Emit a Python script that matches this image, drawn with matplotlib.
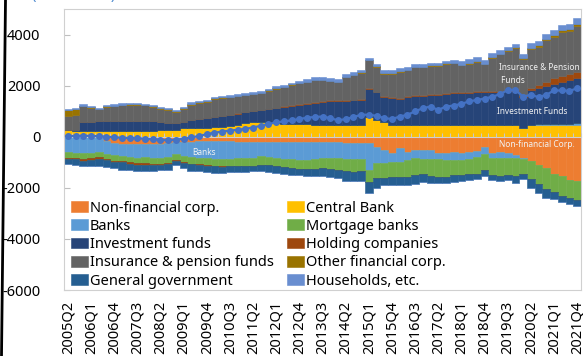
import numpy as np
import pandas as pd
import matplotlib
matplotlib.use("Agg")
import matplotlib.pyplot as plt
from matplotlib.lines import Line2D

plt.rcParams['font.family'] = ['Noto Sans', 'DejaVu Sans']
plt.rcParams['axes.unicode_minus'] = False

# quarterly observations, 2005Q2 - 2021Q4 (DKK billion)
quarters = [str(p) for p in pd.period_range('2005Q2', '2021Q4', freq='Q')]

non_financial = [110, 100, 90, 70, 20, -150, -250, -280, -300, -300,
                 -300, -300, -280, -250, -200, -200, -190, -180, -170, -170,
                 -170, -180, -190, -200, -200, -190, -190, -200, -200, -210,
                 -210, -200, -200, -210, -210, -220, -230, -230, -240, -250,
                 -400, -500, -650, -460, -590, -500, -500, -520, -620, -650,
                 -590, -650, -590, -560, -420, -650, -600, -640, -700, -830,
                 -960, -1090, -1220, -1450, -1550, -1680, -1740]
central_bank = [140, 140, 150, 160, 200, 240, 240, 240, 230, 230,
                240, 240, 250, 250, 280, 340, 340, 340, 350, 370,
                400, 420, 450, 520, 560, 560, 540, 520, 510, 500,
                490, 480, 470, 470, 470, 470, 470, 470, 470, 760,
                660, 560, 470, 440, 440, 440, 440, 440, 440, 440,
                455, 455, 455, 455, 455, 455, 455, 455, 455, 360,
                450, 440, 440, 440, 450, 450, 460]
banks = [-600, -620, -640, -620, -580, -520, -480, -470, -480, -520,
         -500, -530, -540, -540, -470, -540, -600, -640, -680, -700,
         -700, -680, -660, -640, -620, -560, -600, -640, -660, -680,
         -700, -700, -680, -620, -620, -630, -640, -640, -620, -1050,
         -620, -540, -350, -520, -330, -350, -380, -340, -260, -260,
         -320, -250, -300, -250, -260, -200, -250, -180, -130, -60,
         20, 40, 40, 50, 50, 50, 60]
mortgage_banks = [-230, -230, -250, -220, -230, -220, -210, -210, -220, -220,
                  -230, -230, -230, -240, -260, -260, -260, -260, -260, -270,
                  -280, -290, -300, -310, -330, -350, -330, -320, -320, -330,
                  -340, -350, -370, -400, -430, -460, -480, -500, -500, -480,
                  -580, -560, -580, -610, -650, -650, -570, -690, -680, -680,
                  -580, -610, -580, -630, -620, -650, -690, -680, -700, -560,
                  -700, -760, -820, -700, -760, -700, -720]
investment_funds = [30, 40, 340, 360, 380, 380, 390, 390, 400, 400,
                    390, 370, 340, 300, 240, 220, 300, 340, 370, 390,
                    420, 440, 450, 440, 440, 480, 540, 600, 670, 720,
                    770, 820, 860, 900, 920, 930, 940, 950, 960, 1110,
                    1080, 990, 1040, 1050, 1110, 1150, 1170, 1190, 1210, 1230,
                    1260, 1260, 1270, 1280, 1290, 1300, 1310, 1320, 1330, 1210,
                    1360, 1420, 1510, 1580, 1660, 1720, 1770]
holding_companies = [-40, -40, -60, -90, -60, -40, -40, -40, -50, -60,
                     -60, -50, -40, -40, -30, -30, -30, -30, -20, -20,
                     -20, -10, 10, 10, 20, 20, 20, 20, 20, 20,
                     20, 30, 30, 30, 30, 30, 30, 30, 30, 30,
                     30, 30, 30, 30, 30, 30, 30, 30, 30, 30,
                     40, 40, 40, 40, 40, 40, 40, 40, 40, 40,
                     70, 130, 170, 210, 220, 240, 260]
insurance_pension = [530, 590, 620, 550, 470, 560, 570, 610, 630, 630,
                     600, 560, 510, 510, 450, 540, 620, 650, 640, 720,
                     700, 690, 680, 660, 650, 650, 690, 740, 740, 790,
                     810, 810, 850, 820, 760, 710, 890, 960, 1040, 1090,
                     970, 890, 930, 1020, 1020, 1090, 1070, 1100, 1080, 1140,
                     1120, 1040, 1100, 1160, 1050, 1300, 1420, 1540, 1640, 1450,
                     1540, 1500, 1620, 1630, 1720, 1690, 1790]
other_financial = [230, 220, 20, 20, 20, 20, 20, 20, 20, 20,
                   20, 20, 20, 20, 20, 20, 20, 20, 20, 20,
                   20, 20, 20, 20, 20, 20, 20, 20, 20, 20,
                   20, 20, 20, 20, 20, 20, 20, 20, 20, 20,
                   20, 30, 30, 30, 30, 30, 30, 30, 30, 30,
                   30, 30, 30, 30, 30, 30, 30, 30, 30, 40,
                   50, 60, 60, 70, 70, 80, 80]
general_government = [-200, -200, -200, -220, -260, -270, -260, -290, -270, -240,
                      -260, -230, -230, -230, -160, -210, -260, -250, -240, -260,
                      -250, -230, -230, -230, -210, -240, -280, -260, -270, -270,
                      -260, -270, -300, -310, -300, -300, -380, -380, -390, -420,
                      -400, -280, -320, -290, -310, -360, -310, -250, -270, -210,
                      -300, -240, -230, -220, -230, -190, -190, -190, -270, -220,
                      -350, -360, -340, -270, -250, -260, -270]
households = [50, 50, 50, 50, 50, 50, 50, 50, 50, 50,
              50, 60, 60, 60, 60, 60, 60, 60, 60, 60,
              60, 70, 70, 70, 70, 70, 70, 70, 70, 70,
              70, 90, 90, 90, 90, 90, 90, 90, 90, 90,
              90, 110, 110, 110, 110, 110, 110, 110, 110, 110,
              110, 140, 140, 140, 140, 140, 140, 140, 140, 140,
              160, 170, 180, 190, 200, 200, 210]
net_position = [20, 30, 40, 30, 20, 0, -20, -40, -50, -60,
                -80, -100, -120, -140, -120, -80, -30, 30, 100, 160,
                200, 240, 270, 310, 360, 430, 500, 560, 600, 640,
                690, 750, 770, 790, 730, 640, 690, 770, 860, 860,
                820, 730, 690, 790, 860, 990, 1120, 1180, 1050, 1180,
                1220, 1290, 1380, 1440, 1490, 1570, 1660, 1830, 1830, 1570,
                1640, 1550, 1640, 1810, 1810, 1790, 1900]

sectors = [
    ("Non-financial corp.", non_financial, "#ED7D31"),
    ("Central Bank", central_bank, "#FFC000"),
    ("Banks", banks, "#5B9BD5"),
    ("Mortgage banks", mortgage_banks, "#70AD47"),
    ("Investment funds", investment_funds, "#264478"),
    ("Holding companies", holding_companies, "#9E480E"),
    ("Insurance & pension funds", insurance_pension, "#636363"),
    ("Other financial corp.", other_financial, "#997300"),
    ("General government", general_government, "#255E91"),
    ("Households, etc.", households, "#698ED0"),
]

fig = plt.figure(figsize=(5.83, 3.56), dpi=100)
ax = fig.add_axes([64 / 583, 66 / 356, 517 / 583, 281 / 356])

x = np.arange(len(quarters))
pos_base = np.zeros(len(x))
neg_base = np.zeros(len(x))
handles = []
for label, vals, color in sectors:
    v = np.asarray(vals, dtype=float)
    up = np.clip(v, 0, None)
    down = np.clip(v, None, 0)
    h = ax.bar(x, up, bottom=pos_base, width=1.0, color=color,
               edgecolor=color, linewidth=0.4, label=label, zorder=1)
    ax.bar(x, down, bottom=neg_base, width=1.0, color=color,
           edgecolor=color, linewidth=0.4, zorder=1)
    pos_base += up
    neg_base += down
    handles.append(h)

# net position line
ax.plot(x, net_position, color="#4472C4", lw=1.6, marker="o", ms=4,
        zorder=4)

ax.set_xlim(-0.5, len(x) - 0.5)
ax.set_ylim(-6000, 5000)
ax.set_yticks(np.arange(-6000, 4001, 2000))
ax.tick_params(axis="y", direction="in", length=4, color="#BFBFBF",
               labelsize=10.5, pad=17)
ax.set_xticks(x[::3])
ax.set_xticklabels(quarters[::3], rotation=90)
ax.tick_params(axis="x", length=0, labelsize=10.5, pad=8)
for sp in ax.spines.values():
    sp.set_color("#D0D0D0")
    sp.set_linewidth(0.8)

# category axis crossing at zero
zero_axis = ax.secondary_xaxis(0, transform=ax.transData)
zero_axis.set_xticks(np.arange(-0.5, len(x), 1.0))
zero_axis.tick_params(direction="in", length=3, color="#C8C8C8",
                      labelbottom=False, width=0.8)
zero_axis.spines["bottom"].set_color("#D0D0D0")
zero_axis.set_zorder(3)

# series labels inside the areas
lab = dict(color="#F2F2F2", fontsize=6, va="center", zorder=5)
ax.text(17.7, -620, "Banks", ha="center", **lab)
ax.text(55.9, 2460, "Insurance & Pension\n Funds", ha="left",
        linespacing=1.5, **lab)
ax.text(55.6, 975, "Investment Funds", ha="left", **lab)
ax.text(55.9, -310, "Non-financial Corp.", ha="left", **lab)

order = handles[0::2] + handles[1::2]
ax.legend(handles=order, labels=[h.get_label() for h in order], ncol=2,
          loc="lower left", bbox_to_anchor=(0.011, 0.0), frameon=False,
          fontsize=10.5, handlelength=1.15, handleheight=0.75,
          handletextpad=0.15, columnspacing=0.9, labelspacing=0.22,
          borderpad=0.1, borderaxespad=0.0)

fig.text(32 / 583, 1 - 3 / 356, "(DKK billion)", color="#4F8BD0",
         fontsize=10.5, va="bottom")
fig.add_artist(Line2D([5.5 / 583, 1.5 / 583], [1, 0],
                      transform=fig.transFigure, color="black", lw=2))

fig.savefig("out.png", dpi=100)
